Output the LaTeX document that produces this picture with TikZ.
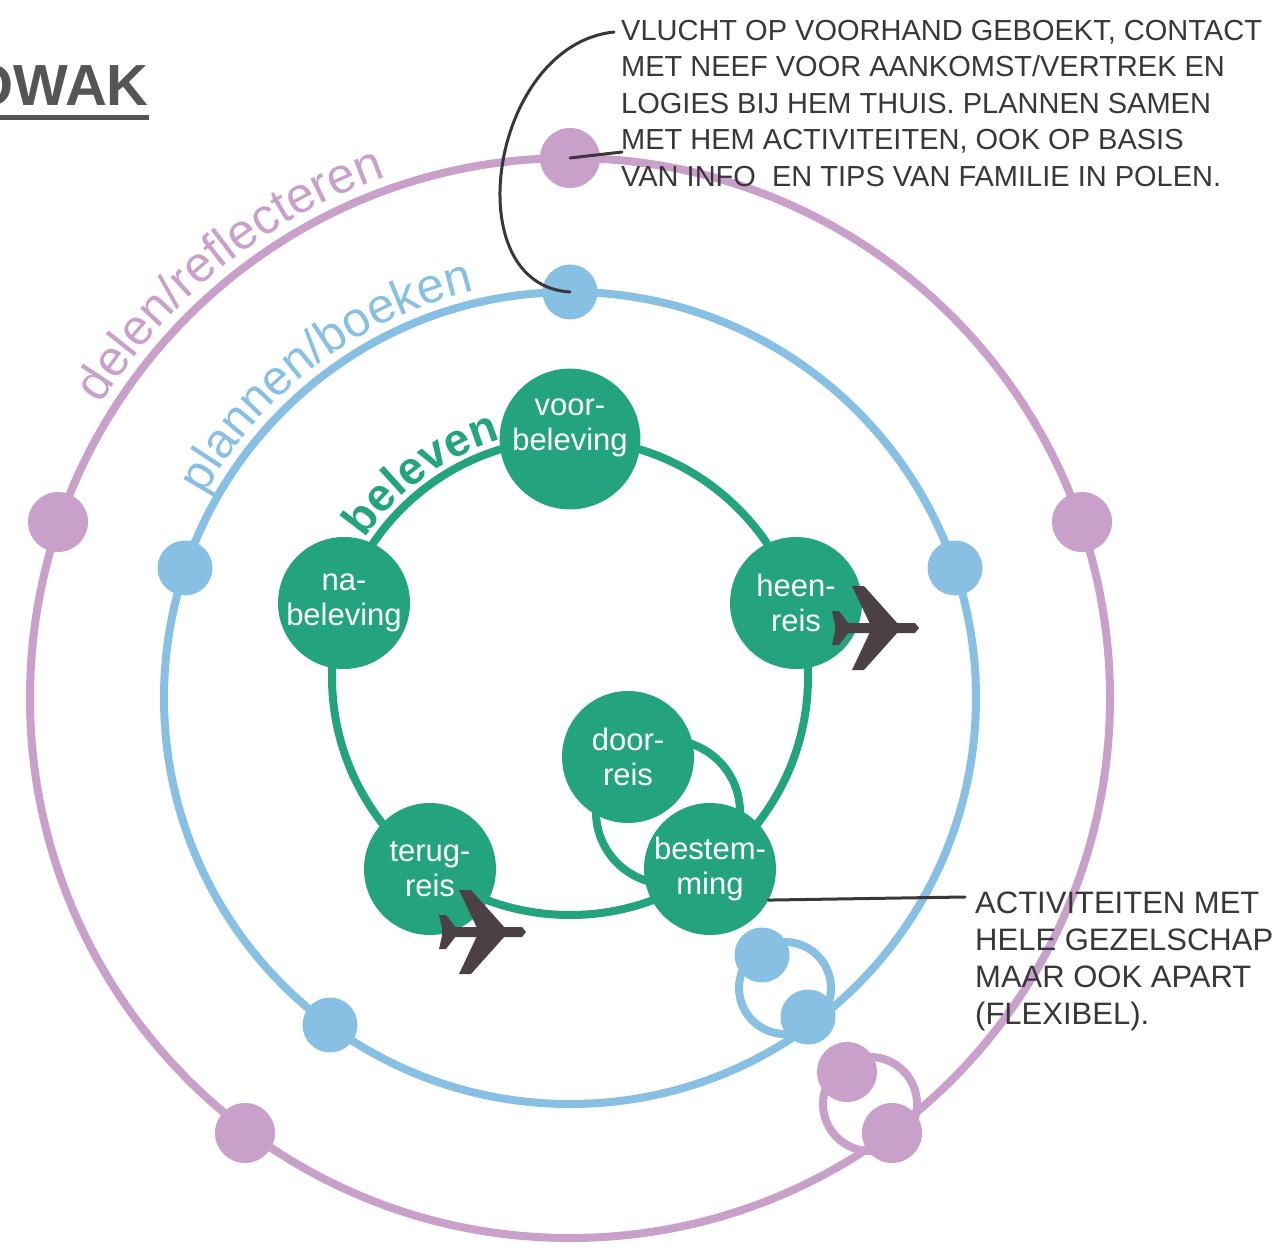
\documentclass[tikz,border=0pt]{standalone}
\usepackage{fontspec}
\setmainfont{Liberation Sans}
\usepackage{tikz}
\usepackage{xcolor}
\usetikzlibrary{decorations.text}

\definecolor{pinkring}{RGB}{201,160,202}
\definecolor{bluering}{RGB}{135,192,226}
\definecolor{greenring}{RGB}{36,163,127}
\definecolor{planegray}{RGB}{74,64,70}
\definecolor{notegray}{RGB}{58,54,58}
\definecolor{titlegray}{RGB}{85,85,88}

\tikzset{
  pdot/.style={circle, fill=pinkring, minimum size=60pt, inner sep=0pt},
  bdot/.style={circle, fill=bluering, minimum size=55pt, inner sep=0pt},
  gnode/.style={circle, fill=greenring, minimum size=132pt, inner sep=0pt,
    text=white, align=center, font=\fontsize{31}{35}\selectfont},
  note/.style={align=left, inner sep=0pt, text=notegray,
    font=\fontsize{29}{36.5}\selectfont},
  ring/.style={line width=8pt},
  pointer/.style={draw=notegray, line width=3pt, line cap=round},
  plane/.pic={
    \fill[planegray] (-50,-5) -- (30,-5) -- (34,0) -- (30,5) -- (-50,5) -- cycle;
    \fill[planegray] (13,4) -- (-21,42) -- (-33,42) -- (-15,4) -- cycle;
    \fill[planegray] (13,-4) -- (-21,-42) -- (-33,-42) -- (-15,-4) -- cycle;
    \fill[planegray] (-36,4) -- (-46,17) -- (-53,17) -- (-50,4) -- cycle;
    \fill[planegray] (-36,-4) -- (-46,-17) -- (-53,-17) -- (-50,-4) -- cycle;
  }
}

\begin{document}
\begin{tikzpicture}[x=1pt, y=1pt]
  \useasboundingbox[fill=white] (0,-1246) rectangle (1286,0);

  % rings and loops
  \draw[ring, pinkring] (570,-698) circle[radius=540];
  \draw[ring, bluering] (570,-698) circle[radius=406];
  \draw[ring, greenring] (570,-677) circle[radius=238];
  \draw[ring, greenring] (668,-812) circle[radius=72];
  \draw[ring, bluering] (785,-988) circle[radius=46];
  \draw[ring, pinkring] (870,-1104) circle[radius=47];

  % dots
  \foreach \n/\x/\y in {ptop/570/158, pleft/58/522, pright/1082/522,
      pbl/245/1133, pA/847/1072, pB/892/1133}
    \node[pdot] (\n) at (\x,-\y) {};
  \foreach \n/\x/\y in {btop/570/292, bleft/185/568, bright/955/568,
      bbl/330/1025, bA/762/955, bB/808/1017}
    \node[bdot] (\n) at (\x,-\y) {};

  % stages
  \node[gnode] (voor) at (570,-439) {voor-\\beleving\\[-6pt]};
  \node[gnode] (heen) at (796,-603) {heen-\\reis};
  \node[gnode] (door) at (628,-757) {door-\\reis};
  \node[gnode] (best) at (710,-869) {bestem-\\ming};
  \node[gnode] (terug) at (430,-869) {terug-\\reis};
  \node[gnode] (na) at (344,-603) {na-\\beleving};

  % ring labels
  \path[decorate, decoration={text along path, text align=left,
      text={|\fontsize{50}{50}\selectfont\color{pinkring}|delen/reflecteren}}]
    (570,-698) ++(148:553) arc[start angle=148, end angle=100, radius=553];
  \path[decorate, decoration={text along path, text align=left,
      text={|\fontsize{49}{49}\selectfont\color{bluering}|plannen/boeken}}]
    (570,-698) ++(151:418) arc[start angle=151, end angle=98, radius=418];
  \path[decorate, decoration={text along path, text align=left,
      text={|\fontsize{46}{46}\selectfont\bfseries\color{greenring}|beleven}}]
    (570,-677) ++(146:247) arc[start angle=146, end angle=100, radius=247];

  \pic at (885,-628) {plane};
  \pic at (492,-932) {plane};

  % notes
  \node[note, anchor=north west] (vlucht) at (621,-20)
    {VLUCHT OP VOORHAND GEBOEKT, CONTACT\\
     MET NEEF VOOR AANKOMST/VERTREK EN\\
     LOGIES BIJ HEM THUIS. PLANNEN SAMEN\\
     MET HEM ACTIVITEITEN, OOK OP BASIS\\
     VAN INFO\ \ EN TIPS VAN FAMILIE IN POLEN.};
  \node[note, anchor=north west, font=\fontsize{31}{37}\selectfont] (activ) at (975,-892)
    {ACTIVITEITEN MET\\ HELE GEZELSCHAP\\ MAAR OOK APART\\ (FLEXIBEL).};

  \coordinate (tipA) at (614,-32);
  \coordinate (tipB) at (622,-152);
  \coordinate (tipC) at (965,-897);
  \draw[pointer] (tipA) .. controls (490,-45) and (455,-285) .. (btop.center);
  \draw[pointer] (ptop.center) -- (tipB);
  \draw[pointer] (best.-28) -- (tipC);

  % title
  \node[anchor=base east, inner sep=0pt, text=titlegray,
    font=\fontsize{58}{58}\selectfont\bfseries] (title) at (149,-106) {OWAK};
  \draw[titlegray, line width=5pt] (0,-118) -- (149,-118);
\end{tikzpicture}
\end{document}
